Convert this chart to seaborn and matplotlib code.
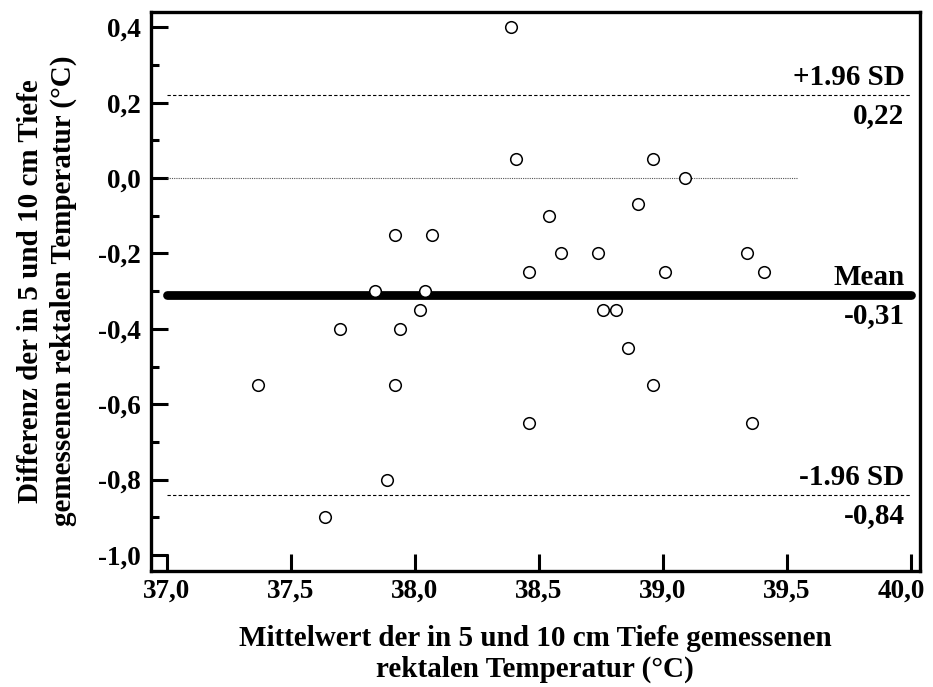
import matplotlib
matplotlib.use("Agg")
import matplotlib.pyplot as plt
import matplotlib.transforms as mtransforms
import seaborn as sns
import pandas as pd
import numpy as np
from matplotlib.ticker import FuncFormatter, MultipleLocator

# ---- data ----
mean_temp = [38.39, 38.41, 38.96, 39.09, 38.54, 38.90, 37.92, 38.07, 38.59, 38.74,
             39.34, 38.46, 39.01, 39.41, 37.84, 38.04, 38.02, 38.76, 38.81, 37.70,
             37.94, 38.86, 37.37, 37.92, 38.96, 38.46, 39.36, 37.89, 37.64]
diff_temp = [0.40, 0.05, 0.05, 0.00, -0.10, -0.07, -0.15, -0.15, -0.20, -0.20,
             -0.20, -0.25, -0.25, -0.25, -0.30, -0.30, -0.35, -0.35, -0.35, -0.40,
             -0.40, -0.45, -0.55, -0.55, -0.55, -0.65, -0.65, -0.80, -0.90]
mean_diff = -0.31
upper_loa = 0.22
lower_loa = -0.84
zero_line_end = 39.54
x_ticks = [37.0, 37.5, 38.0, 38.5, 39.0, 39.5, 40.0]
y_ticks = [0.4, 0.2, 0.0, -0.2, -0.4, -0.6, -0.8, -1.0]
xlabel = "Mittelwert der in 5 und 10 cm Tiefe gemessenen\nrektalen Temperatur (°C)"
ylabel = "Differenz der in 5 und 10 cm Tiefe\ngemessenen rektalen Temperatur (°C)"

df = pd.DataFrame({"mean": mean_temp, "diff": diff_temp})

sns.set_theme(style="ticks")
plt.rcParams["font.family"] = ["Liberation Serif", "DejaVu Serif"]
plt.rcParams["font.weight"] = "bold"
for k in ["text.color", "axes.labelcolor", "xtick.color", "ytick.color",
          "axes.edgecolor", "xtick.labelcolor", "ytick.labelcolor"]:
    plt.rcParams[k] = "black"
FS = 21
TFS = 19.5

fig = plt.figure(figsize=(9.33, 6.87), dpi=100)
ax = fig.add_axes([0.1615, 0.1693, 0.986 - 0.1615, 0.983 - 0.1693])

x0, x1 = x_ticks[0], x_ticks[-1]
# reference lines
ax.plot([x0, x1], [mean_diff, mean_diff], color="black", lw=6.3,
        solid_capstyle="round", zorder=2)
ax.plot([x0, x1], [upper_loa, upper_loa], color="black", lw=0.8,
        linestyle=(0, (3, 2)), zorder=1)
ax.plot([x0, x1], [lower_loa, lower_loa], color="black", lw=0.8,
        linestyle=(0, (3, 2)), zorder=1)
ax.plot([x0, zero_line_end], [0, 0], color="#555555", lw=0.8,
        linestyle=(0, (1, 1)), zorder=1)

sns.scatterplot(data=df, x="mean", y="diff", ax=ax, s=70, marker="o",
                facecolor="white", edgecolor="black", linewidth=1.1, zorder=3)

# annotations
def ann(txt, y, above):
    ax.annotate(txt, xy=(39.975, y), xycoords="data",
                xytext=(0, 3 if above else -5), textcoords="offset points",
                ha="right", va="bottom" if above else "top",
                fontsize=FS, fontweight="bold", color="black")

ann("+1.96 SD", upper_loa, True)
ann(f"{upper_loa:.2f}".replace(".", ","), upper_loa, False)
ann("Mean", mean_diff, True)
ann(f"{mean_diff:.2f}".replace(".", ","), mean_diff, False)
ann("-1.96 SD", lower_loa, True)
ann(f"{lower_loa:.2f}".replace(".", ","), lower_loa, False)

ax.set_xlim(36.9355, 40.0375)
ax.set_ylim(-1.0416, 0.4414)
ax.set_xticks(x_ticks)
ax.set_yticks(y_ticks)
ax.yaxis.set_minor_locator(MultipleLocator(0.1))

fmt = FuncFormatter(lambda v, p: f"{round(v, 1) + 0.0:.1f}".replace(".", ","))
ax.xaxis.set_major_formatter(fmt)
ax.yaxis.set_major_formatter(fmt)

for s in ax.spines.values():
    s.set_linewidth(2.4)
    s.set_color("black")
    s.set_visible(True)

ax.tick_params(axis="both", which="major", direction="in", length=12, width=2.2,
               labelsize=TFS, color="black", labelcolor="black", pad=7)
ax.tick_params(axis="y", which="minor", direction="in", length=6, width=2.2,
               color="black")
ax.tick_params(axis="x", which="major", pad=6)
for lab in ax.get_xticklabels() + ax.get_yticklabels():
    lab.set_fontweight("bold")

ax.set_xlabel(xlabel, fontsize=FS, fontweight="bold", labelpad=15,
              linespacing=1.2, color="black")
ax.set_ylabel(ylabel, fontsize=FS, fontweight="bold", labelpad=15,
              linespacing=1.3, color="black")
ax.grid(False)

# keep the last x tick label inside the figure (as in the reference)
fig.canvas.draw()
last = ax.xaxis.get_major_ticks()[-1].label1
last.set_transform(last.get_transform() +
                   mtransforms.ScaledTranslation(-7 / 72, 0, fig.dpi_scale_trans))

fig.savefig("out.png", dpi=100)
